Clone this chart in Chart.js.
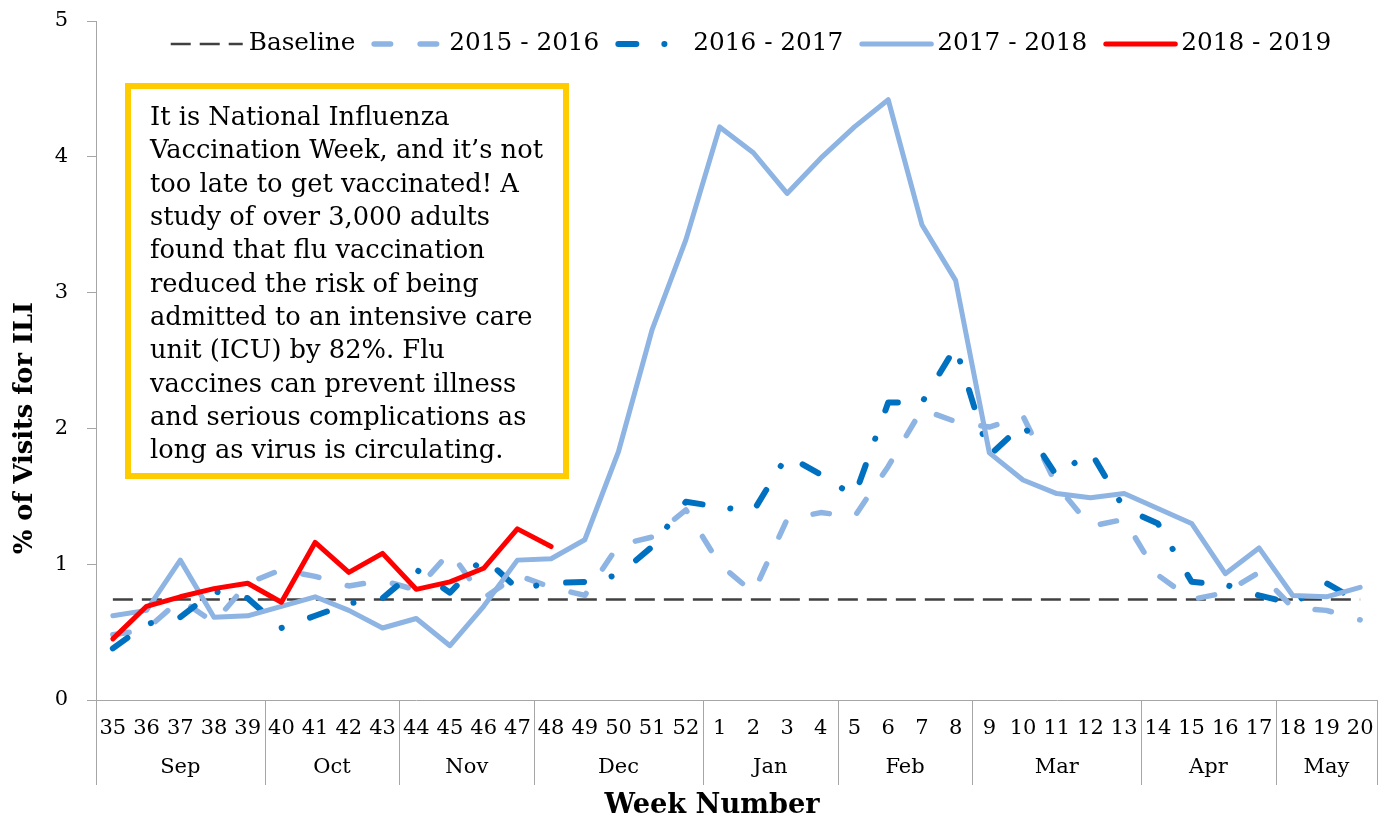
<!DOCTYPE html>
<html>
<head>
<meta charset="utf-8">
<script src="https://cdn.jsdelivr.net/npm/chart.js@4.4.1/dist/chart.umd.min.js"></script>
<style>
  html, body { margin: 0; padding: 0; background: #ffffff; }
  #wrap { width: 1378px; height: 821px; }
</style>
</head>
<body>
<div id="wrap"><canvas id="c" width="1378" height="821"></canvas></div>
<script>
// ---- data ----
const weeks = ['35','36','37','38','39','40','41','42','43','44','45','46','47','48','49','50','51','52',
               '1','2','3','4','5','6','7','8','9','10','11','12','13','14','15','16','17','18','19','20'];
const months = ['Sep','Oct','Nov','Dec','Jan','Feb','Mar','Apr','May'];
const monthSpans = [5, 4, 4, 5, 4, 4, 5, 4, 3];
const yTicks = [0, 1, 2, 3, 4, 5];

const baseline = [0.74,0.74,0.74,0.74,0.74,0.74,0.74,0.74,0.74,0.74,0.74,0.74,0.74,0.74,0.74,0.74,0.74,0.74,
                  0.74,0.74,0.74,0.74,0.74,0.74,0.74,0.74,0.74,0.74,0.74,0.74,0.74,0.74,0.74,0.74,0.74,0.74,0.74,0.74];
const s2015 = [0.48,0.52,0.74,0.57,0.86,0.96,0.91,0.84,0.88,0.81,1.09,0.75,0.92,0.83,0.77,1.14,1.20,1.40,
               1.00,0.79,1.33,1.38,1.35,1.72,2.14,2.05,2.01,2.09,1.58,1.28,1.33,0.92,0.74,0.79,0.94,0.68,0.66,0.59];
const s2016 = [0.38,0.56,0.61,0.80,0.75,0.53,0.62,0.71,0.75,0.96,0.79,1.05,0.82,0.86,0.87,0.92,1.13,1.46,
               1.42,1.39,1.80,1.66,1.50,2.19,2.19,2.60,1.80,2.03,1.65,1.83,1.41,1.30,0.87,0.85,0.77,0.71,0.86,0.72];
const s2017 = [0.62,0.66,1.03,0.61,0.62,0.69,0.76,0.66,0.53,0.60,0.40,0.69,1.03,1.04,1.18,1.83,2.73,3.39,
               4.22,4.03,3.73,3.99,4.22,4.42,3.50,3.09,1.82,1.62,1.52,1.49,1.52,1.41,1.30,0.93,1.12,0.77,0.76,0.83];
const s2018 = [0.45,0.69,0.76,0.82,0.86,0.72,1.16,0.94,1.08,0.815,0.87,0.97,1.26,1.13];

const seriesNames = ['Baseline', '2015 - 2016', '2016 - 2017', '2017 - 2018', '2018 - 2019'];

const noteLines = [
  'It is National Influenza',
  'Vaccination Week, and it\u2019s not',
  'too late to get vaccinated! A',
  'study of over 3,000 adults',
  'found that flu vaccination',
  'reduced the risk of being',
  'admitted to an intensive care',
  'unit (ICU) by 82%. Flu',
  'vaccines can prevent illness',
  'and serious complications as',
  'long as virus is circulating.'
];

// ---- styles ----
const FAMILY = 'Georgia, "DejaVu Serif", serif';
const LIGHT = '#8DB4E2';
const DARK = '#0070C0';
const AXIS = '#A6A6A6';

function fitSize(ctx, text, width, weight, family) {
  ctx.save();
  ctx.font = weight + ' 100px ' + family;
  const w = ctx.measureText(text).width;
  ctx.restore();
  return 100 * width / w;
}

const decorPlugin = {
  id: 'decor',
  afterDraw(chart) {
    const ctx = chart.ctx;
    const x = chart.scales.x;
    const area = chart.chartArea;

    // month group separators and labels
    ctx.save();
    ctx.strokeStyle = AXIS;
    ctx.lineWidth = 1;
    ctx.fillStyle = '#000';
    ctx.font = '21px ' + FAMILY;
    ctx.textAlign = 'center';
    ctx.textBaseline = 'middle';
    let idx = 0;
    const bounds = [];
    const edge = (i) => {
      if (i <= 0) return x.left;
      if (i >= weeks.length) return x.right;
      return (x.getPixelForValue(i - 1) + x.getPixelForValue(i)) / 2;
    };
    for (let m = 0; m < months.length; m++) {
      const a = edge(idx), b = edge(idx + monthSpans[m]);
      bounds.push(a);
      ctx.fillText(months[m], (a + b) / 2, area.bottom + 68);
      idx += monthSpans[m];
    }
    bounds.push(edge(idx));
    for (const bx of bounds) {
      const px = Math.min(Math.round(bx), chart.width - 1) + 0.5;
      ctx.beginPath();
      ctx.moveTo(px, area.bottom);
      ctx.lineTo(px, area.bottom + 85);
      ctx.stroke();
    }
    ctx.restore();

    // note box
    ctx.save();
    ctx.fillStyle = '#ffffff';
    ctx.fillRect(128, 86, 438, 390);
    ctx.strokeStyle = '#FFCC00';
    ctx.lineWidth = 6;
    ctx.strokeRect(128, 86, 438, 390);
    const noteSize = fitSize(ctx, noteLines[1], 393, 'normal', FAMILY);
    ctx.font = noteSize.toFixed(2) + 'px ' + FAMILY;
    ctx.fillStyle = '#000';
    ctx.textAlign = 'left';
    ctx.textBaseline = 'alphabetic';
    noteLines.forEach((t, i) => ctx.fillText(t, 150, 125 + i * 33.33));
    ctx.restore();

    // legend
    ctx.save();
    const legSize = fitSize(ctx, seriesNames[1], 150, 'normal', FAMILY);
    ctx.font = legSize.toFixed(2) + 'px ' + FAMILY;
    const sample = 72, gapText = 6, gapItem = 16;
    const ds = chart.data.datasets;
    let total = 0;
    const widths = ds.map(d => ctx.measureText(d.label).width);
    widths.forEach((w, i) => { total += sample + gapText + w + (i < widths.length - 1 ? gapItem : 0); });
    let lx = 751 - total / 2;
    const ly = 44;
    ds.forEach((d, i) => {
      ctx.save();
      ctx.strokeStyle = d.borderColor;
      ctx.lineWidth = d.borderWidth;
      ctx.lineCap = d.borderCapStyle || 'butt';
      ctx.setLineDash(d.borderDash || []);
      ctx.beginPath();
      ctx.moveTo(lx + (ctx.lineCap === 'round' ? d.borderWidth / 2 : 0), ly);
      ctx.lineTo(lx + sample, ly);
      ctx.stroke();
      ctx.restore();
      ctx.fillStyle = '#000';
      ctx.textAlign = 'left';
      ctx.textBaseline = 'middle';
      ctx.fillText(d.label, lx + sample + gapText, ly);
      lx += sample + gapText + widths[i] + gapItem;
    });
    ctx.restore();

    // axis titles
    ctx.save();
    ctx.fillStyle = '#000';
    ctx.textAlign = 'center';
    ctx.textBaseline = 'middle';
    const xtSize = fitSize(ctx, 'Week Number', 215, 'bold', FAMILY);
    ctx.font = 'bold ' + xtSize.toFixed(2) + 'px ' + FAMILY;
    ctx.fillText('Week Number', 712, 806);
    const ytSize = fitSize(ctx, '% of Visits for ILI', 252, 'bold', FAMILY);
    ctx.font = 'bold ' + ytSize.toFixed(2) + 'px ' + FAMILY;
    ctx.translate(25, 428);
    ctx.rotate(-Math.PI / 2);
    ctx.fillText('% of Visits for ILI', 0, 0);
    ctx.restore();
  }
};

const common = { pointRadius: 0, pointHoverRadius: 0, fill: false, tension: 0, borderJoinStyle: 'round' };

new Chart(document.getElementById('c'), {
  type: 'line',
  data: {
    labels: weeks,
    datasets: [
      Object.assign({ label: seriesNames[0], data: baseline, borderColor: '#404040', borderWidth: 2.5,
        borderDash: [20, 9], borderCapStyle: 'butt', order: 5 }, common),
      Object.assign({ label: seriesNames[1], data: s2015, borderColor: LIGHT, borderWidth: 5.5,
        borderDash: [16.5, 29.5], borderCapStyle: 'round', order: 4 }, common),
      Object.assign({ label: seriesNames[2], data: s2016, borderColor: DARK, borderWidth: 6,
        borderDash: [18, 28, 0.1, 30], borderCapStyle: 'round', order: 3 }, common),
      Object.assign({ label: seriesNames[3], data: s2017, borderColor: LIGHT, borderWidth: 5,
        borderCapStyle: 'round', order: 2 }, common),
      Object.assign({ label: seriesNames[4], data: s2018, borderColor: '#FF0000', borderWidth: 5,
        borderCapStyle: 'round', order: 1 }, common)
    ]
  },
  options: {
    responsive: false,
    animation: false,
    devicePixelRatio: 1,
    events: [],
    layout: { padding: { top: 21, right: 1, left: 0, bottom: 0 } },
    plugins: { legend: { display: false }, tooltip: { enabled: false }, title: { display: false } },
    scales: {
      x: {
        type: 'category',
        offset: true,
        grid: { display: false, drawTicks: false },
        border: { display: true, color: AXIS, width: 1 },
        ticks: { color: '#000', font: { family: FAMILY, size: 21 }, padding: 16, autoSkip: false, maxRotation: 0, minRotation: 0 },
        afterFit(s) { s.height = 121; s.paddingLeft = 0; s.paddingRight = 0; }
      },
      y: {
        min: 0, max: 5,
        afterBuildTicks(s) { s.ticks = yTicks.map(v => ({ value: v })); },
        grid: { drawOnChartArea: false, drawTicks: true, tickLength: 9, color: AXIS },
        border: { display: true, color: AXIS, width: 1 },
        ticks: { color: '#000', font: { family: FAMILY, size: 21 }, padding: 19 },
        afterFit(s) { s.width = 96; s.paddingTop = 0; s.paddingBottom = 0; }
      }
    }
  },
  plugins: [decorPlugin]
});
</script>
</body>
</html>
